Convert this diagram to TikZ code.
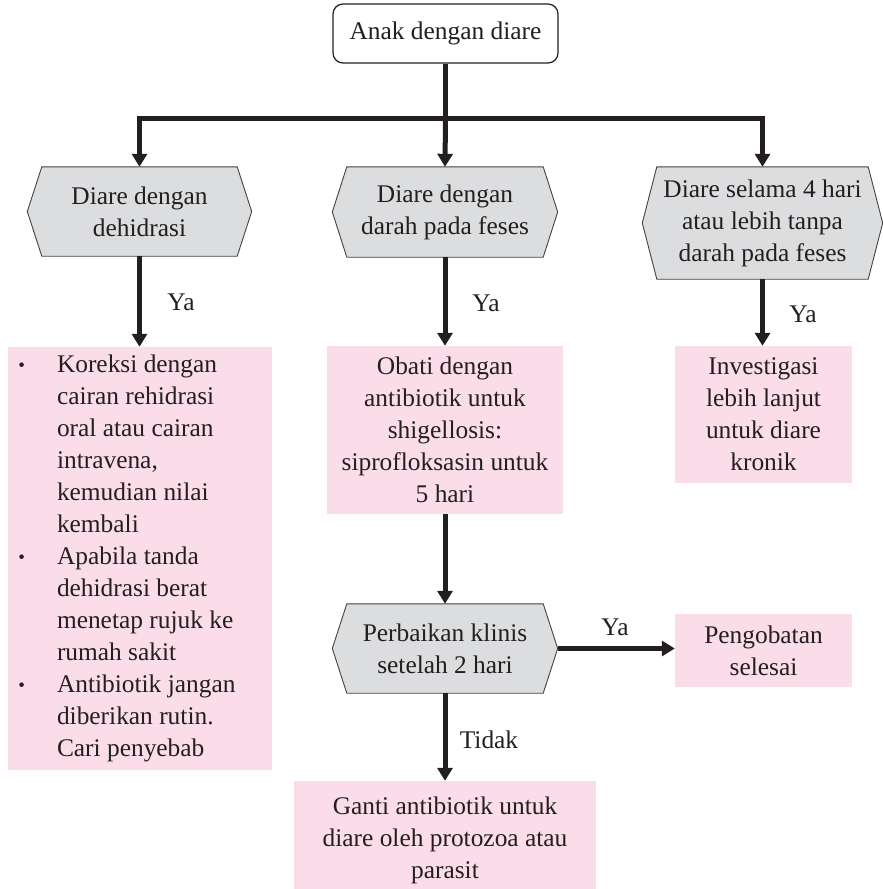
\documentclass[tikz,border=0pt]{standalone}
\usepackage{fontspec}
\setmainfont{Liberation Serif}
\usetikzlibrary{arrows.meta,backgrounds}

\definecolor{ink}{HTML}{231F20}
\definecolor{hexgray}{HTML}{DCDDDE}
\definecolor{rosebox}{HTML}{FADDE8}

% decision hexagon: name, x, y, inner width, height, text
\newcommand\hexnode[6]{%
  \node[hexinner, minimum width=#4pt, minimum height=#5pt] (#1) at (#2,#3) {#6};
  \coordinate (#1-w) at ([xshift=-14.5pt]#1.west);
  \coordinate (#1-e) at ([xshift=14.5pt]#1.east);
  \begin{scope}[on background layer]
    \filldraw[hexshape] (#1.north west) -- (#1.north east) -- (#1-e)
      -- (#1.south east) -- (#1.south west) -- (#1-w) -- cycle;
  \end{scope}
}
% list bullet hanging left of the item text
\newcommand\itembullet{\llap{\raisebox{1.5pt}{\fontsize{19}{19}\selectfont\textbullet}\hspace{32pt}}}

\begin{document}
\begin{tikzpicture}[x=1pt,y=-1pt,
  every node/.style={text=ink, font=\fontsize{25.4}{32}\selectfont},
  hexinner/.style={rectangle, inner sep=0pt, align=center},
  hexshape/.style={fill=hexgray, draw=ink!85, line width=0.9pt},
  startbox/.style={draw=ink, line width=1.2pt, rounded corners=10pt, fill=white, inner sep=0pt, align=center},
  pinkbox/.style={fill=rosebox, inner sep=0pt, align=center},
  flow/.style={draw=ink, line width=5pt, line join=miter, -{Triangle[width=15pt,length=13pt]}},
  bar/.style={draw=ink, line width=5pt},
  lbl/.style={inner sep=0pt}
]
\useasboundingbox (0,0) rectangle (883,889);

% start
\node[startbox, minimum width=225pt, minimum height=59pt] (start) at (445.5,33.5) {Anak dengan diare};

% first row of decisions
\hexnode{h1}{139.5}{211.5}{195}{89}{Diare dengan\\dehidrasi}
\hexnode{h2}{445}{212}{196}{90}{Diare dengan\\darah pada feses}
\hexnode{h3}{762.5}{223}{211}{112}{Diare selama 4 hari\\atau lebih tanpa\\darah pada feses}

% actions
\node[pinkbox, minimum width=264pt, minimum height=423pt] (b1) at (140,558.5) {};
\node[anchor=west, align=left, inner sep=0pt] (b1txt) at ([xshift=49pt]b1.west) {%
  \itembullet Koreksi dengan\\
  cairan rehidrasi\\
  oral atau cairan\\
  intravena,\\
  kemudian nilai\\
  kembali\\
  \itembullet Apabila tanda\\
  dehidrasi berat\\
  menetap rujuk ke\\
  rumah sakit\\
  \itembullet Antibiotik jangan\\
  diberikan rutin.\\
  Cari penyebab};
\node[pinkbox, minimum width=236pt, minimum height=168pt] (b2) at (445,430)
  {Obati dengan\\antibiotik untuk\\shigellosis:\\siprofloksasin untuk\\5 hari};
\node[pinkbox, minimum width=177pt, minimum height=137pt] (b3) at (763.5,414.5)
  {Investigasi\\lebih lanjut\\untuk diare\\kronik};

% second decision and its outcomes
\hexnode{h4}{445}{648.5}{196}{89}{Perbaikan klinis\\setelah 2 hari}
\node[pinkbox, minimum width=177pt, minimum height=73pt] (b4) at (763.5,650.5)
  {Pengobatan\\selesai};
\node[pinkbox, minimum width=302pt, minimum height=118pt] (b5) at (445,840)
  {Ganti antibiotik untuk\\diare oleh protozoa atau\\parasit};

% connectors
\coordinate (jn) at (445.5,118);
\draw[bar] (start.south) -- (jn);
\draw[flow] (jn) -| (h1.north);
\draw[flow] (jn) -| (h3.north);
\draw[flow] (jn) -- (h2.north);

\draw[flow] (h1.south) -- (h1.south |- b1.north);
\draw[flow] (h2.south) -- (h2.south |- b2.north);
\draw[flow] (h3.south) -- (h3.south |- b3.north);
\draw[flow] (b2.south) -- (h4.north);
\draw[flow] (h4-e) -- (h4-e -| b4.west);
\draw[flow] (h4.south) -- (h4.south |- b5.north);

% branch labels
\node[lbl] (ya1) at (181,302) {Ya};
\node[lbl] (ya2) at (486,303) {Ya};
\node[lbl] (ya3) at (803,314) {Ya};
\node[lbl] (ya4) at (615,627) {Ya};
\node[lbl] (tidak) at (489,740) {Tidak};
\end{tikzpicture}
\end{document}
